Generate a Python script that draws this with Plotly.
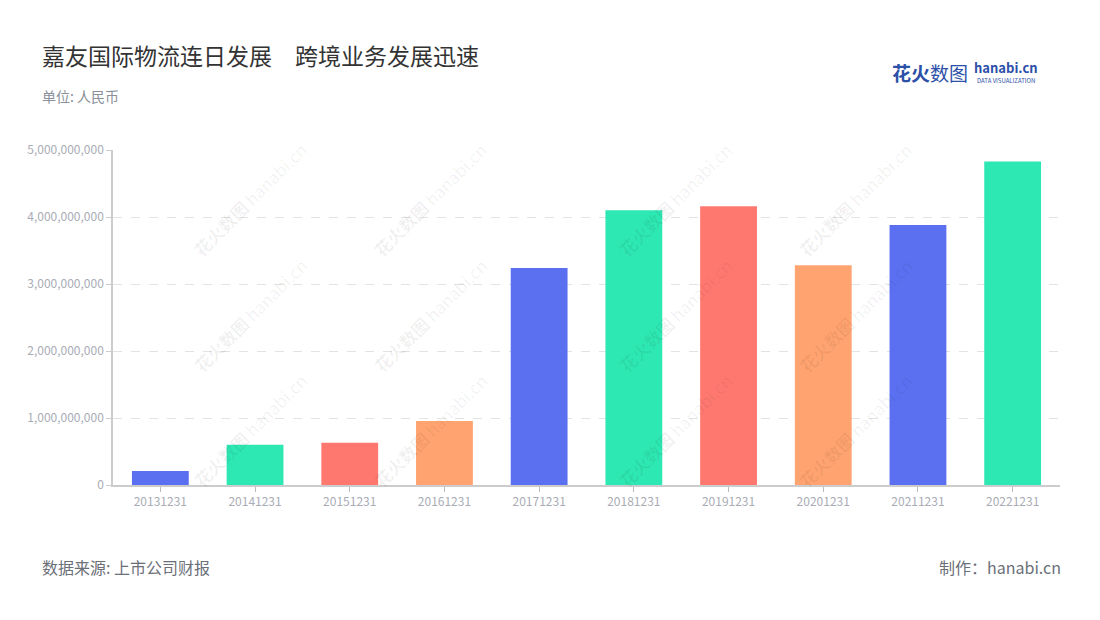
import plotly.graph_objects as go

categories = ["20131231", "20141231", "20151231", "20161231", "20171231",
              "20181231", "20191231", "20201231", "20211231", "20221231"]
values = [0.21e9, 0.60e9, 0.63e9, 0.955e9, 3.24e9, 4.10e9, 4.16e9, 3.28e9, 3.88e9, 4.83e9]
palette = ["#5B70F0", "#2EE8B3", "#FF7870", "#FFA470"]
colors = [palette[i % 4] for i in range(len(categories))]

FONT = "Noto Sans CJK SC"

fig = go.Figure()
fig.add_trace(go.Bar(
    x=categories, y=values, marker=dict(color=colors, line=dict(width=0)),
    width=0.6, hoverinfo="x+y",
))

fig.update_layout(
    width=1100, height=620,
    paper_bgcolor="white", plot_bgcolor="white",
    margin=dict(l=105, r=48, t=142, b=143),
    showlegend=False,
    font=dict(family=FONT),
    xaxis=dict(
        type="category", showline=True, linecolor="#cccccc", linewidth=1.5,
        ticks="outside", ticklen=5, tickcolor="#bbbbbb",
        tickfont=dict(size=12, color="#a9acb5", family=FONT),
        showgrid=False,
    ),
    yaxis=dict(
        range=[0, 5e9], dtick=1e9, tickformat=",", showline=True,
        linecolor="#cccccc", linewidth=1.5, ticks="outside", ticklen=5,
        tickcolor="#cccccc",
        tickfont=dict(size=12, color="#a9acb5", family=FONT),
        showgrid=True, gridcolor="#e3e3e3", griddash="dash", gridwidth=1,
        zeroline=False,
    ),
)

PX0, PX1, PY0, PY1 = 113, 1060, 150, 485

def px(x):
    return (x - PX0) / (PX1 - PX0)

def py(y):
    return 1 - (y - PY0) / (PY1 - PY0)

# Watermarks
wm_x = [185, 430, 675, 920]
wm_y = [135, 315, 495]
for yy in wm_y:
    for xx in wm_x:
        fig.add_annotation(
            xref="paper", yref="paper", x=px(xx), y=py(yy),
            text="<b>花火数图</b> hanabi.cn", showarrow=False, textangle=-45,
            font=dict(size=17, color="rgba(0,0,0,0.06)", family=FONT),
        )

def ann(text, x, y, size, color, xanchor="left", yanchor="middle", bold=False):
    fig.add_annotation(
        xref="paper", yref="paper", x=px(x), y=py(y),
        text=f"<b>{text}</b>" if bold else text, showarrow=False,
        xanchor=xanchor, yanchor=yanchor,
        font=dict(size=size, color=color, family=FONT),
    )

ann("嘉友国际物流连日发展　跨境业务发展迅速", 40, 55, 23, "#333333")
ann("单位: 人民币", 40, 96, 14, "#8a8f99")
ann("数据来源: 上市公司财报", 40, 567, 16, "#6b6f78")
ann("制作：hanabi.cn", 1063, 567, 16, "#6b6f78", xanchor="right")

# Logo
ann("花火", 890, 72, 19, "#2c4fa8", bold=True)
ann("数图", 928, 72, 19, "#2c4fa8")
ann("hanabi.cn", 972, 68, 13, "#2c4fa8", bold=True)
ann("DATA VISUALIZATION", 975, 80, 6, "#2c4fa8")

fig.write_html("out.html")
